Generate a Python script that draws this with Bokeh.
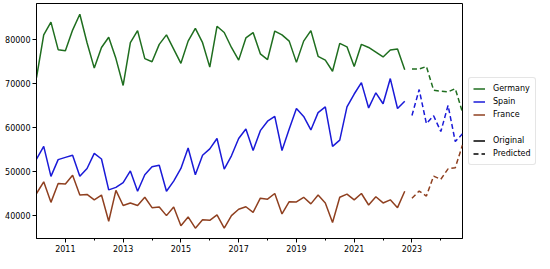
from bokeh.plotting import figure
from bokeh.models import Range1d, FixedTicker, Legend, LegendItem, NumeralTickFormatter
from bokeh.embed import file_html
from bokeh.resources import INLINE

# quarterly data, 2010Q1 .. 2022Q4 (original) and 2023Q1 .. 2024Q4 (predicted)
start_year = 2010
germany_orig = [71360, 81080, 83970, 77710, 77490, 82160, 85770, 79290, 73520, 78210,
                80520, 75680, 69570, 79290, 82030, 75680, 74970, 78920, 81080, 77840,
                74600, 79650, 82530, 79290, 73740, 83020, 81600, 78210, 75330, 80370,
                81600, 76760, 75460, 81940, 81080, 79650, 74820, 79650, 82030, 76200,
                75330, 72810, 79140, 78360, 73890, 78920, 78210, 77130, 76050, 77620,
                77840, 73170]
germany_pred = [73300, 73300, 73890, 68490, 68270, 68120, 68850, 63450]

spain_orig = [52860, 55740, 48920, 52730, 53230, 53720, 48920, 50710, 54150, 52860,
              45850, 46410, 47480, 50150, 45550, 49290, 51080, 51440, 45550, 47850,
              50710, 55380, 49290, 53720, 55160, 57530, 50580, 53590, 57530, 59680,
              54800, 59310, 61460, 62540, 54800, 59680, 64340, 62540, 59460, 63400,
              64690, 55740, 57160, 64690, 67630, 70220, 64470, 67910, 65420, 71140,
              64340, 65980]
spain_pred = [62750, 68650, 60900, 62690, 59100, 65050, 56820, 58600]

france_orig = [45030, 47680, 43010, 47310, 47180, 49180, 44670, 44820, 43590, 44670,
               38710, 45740, 42300, 42880, 42300, 44170, 41810, 41940, 40000, 41940,
               37720, 39700, 37140, 39080, 38920, 40150, 37140, 40000, 41440, 42020,
               40730, 43960, 43740, 45030, 40370, 43160, 43100, 44170, 42670, 44670,
               42880, 38430, 44170, 44880, 43590, 45030, 42410, 44300, 42880, 43590,
               41810, 45530]
france_pred = [43960, 45590, 44450, 48970, 48260, 50620, 50900, 56060]

year_ticks = [2011, 2013, 2015, 2017, 2019, 2021, 2023]
year_minor = [2012, 2014, 2016, 2018, 2020, 2022, 2024]
y_ticks = [40000, 50000, 60000, 70000, 80000]

n_orig = len(germany_orig)
x_orig = [start_year + 0.25 * i for i in range(n_orig)]
x_pred = [start_year + 0.25 * (n_orig + i) for i in range(len(germany_pred))]

C_DE = "#1f6e1f"
C_ES = "#1a1ad8"
C_FR = "#8f4020"

p = figure(frame_width=426, frame_height=235, output_backend="svg", toolbar_location=None,
           x_range=Range1d(x_orig[0], x_pred[-1]), y_range=Range1d(34800, 88200),
           min_border_left=36, min_border_top=3, min_border_bottom=15, min_border_right=0)
p.xgrid.visible = False
p.ygrid.visible = False
p.outline_line_color = "black"
p.outline_line_width = 1
p.outline_line_alpha = 1
p.background_fill_color = "white"

for ax in (p.xaxis[0], p.yaxis[0]):
    ax.axis_line_color = "black"
    ax.major_tick_line_color = "black"
    ax.major_tick_out = 4
    ax.major_tick_in = 0
    ax.minor_tick_out = 2
    ax.minor_tick_in = 0
    ax.major_label_text_font = "DejaVu Sans"
    ax.major_label_text_font_size = "8px"
    ax.major_label_text_color = "black"
    ax.major_label_standoff = 2

p.xaxis[0].ticker = FixedTicker(ticks=year_ticks, minor_ticks=year_minor)
p.xaxis[0].formatter = NumeralTickFormatter(format="0")
p.yaxis[0].ticker = FixedTicker(ticks=y_ticks, minor_ticks=[])
p.yaxis[0].formatter = NumeralTickFormatter(format="0")

lw = 1.5
dash = "5 3"
r_de = p.line(x_orig, germany_orig, line_color=C_DE, line_width=lw)
p.line(x_pred, germany_pred, line_color=C_DE, line_width=lw, line_dash=dash)
r_es = p.line(x_orig, spain_orig, line_color=C_ES, line_width=lw)
p.line(x_pred, spain_pred, line_color=C_ES, line_width=lw, line_dash=dash)
r_fr = p.line(x_orig, france_orig, line_color=C_FR, line_width=lw)
p.line(x_pred, france_pred, line_color=C_FR, line_width=lw, line_dash=dash)

# legend-only renderers (drawn outside the visible range)
far_x = [1900, 1901]
far_y = [0, 0]
r_blank = p.line(far_x, far_y, line_alpha=0)
r_orig = p.line(far_x, far_y, line_color="black", line_width=lw)
r_pred = p.line(far_x, far_y, line_color="black", line_width=lw, line_dash=dash)

legend = Legend(items=[
    LegendItem(label="Germany", renderers=[r_de]),
    LegendItem(label="Spain", renderers=[r_es]),
    LegendItem(label="France", renderers=[r_fr]),
    LegendItem(label=" ", renderers=[r_blank]),
    LegendItem(label="Original", renderers=[r_orig]),
    LegendItem(label="Predicted", renderers=[r_pred]),
])
legend.location = "center_left"
legend.label_text_font = "DejaVu Sans"
legend.label_text_font_size = "8px"
legend.label_text_color = "black"
legend.glyph_width = 12
legend.glyph_height = 13
legend.label_height = 13
legend.spacing = 0
legend.padding = 4
legend.margin = 6
legend.label_standoff = 8
legend.border_line_color = "#cccccc"
legend.border_line_width = 1
legend.border_radius = 3
legend.background_fill_color = "white"
legend.background_fill_alpha = 1
p.add_layout(legend, "right")

open("out.html", "w").write(file_html(p, INLINE))
